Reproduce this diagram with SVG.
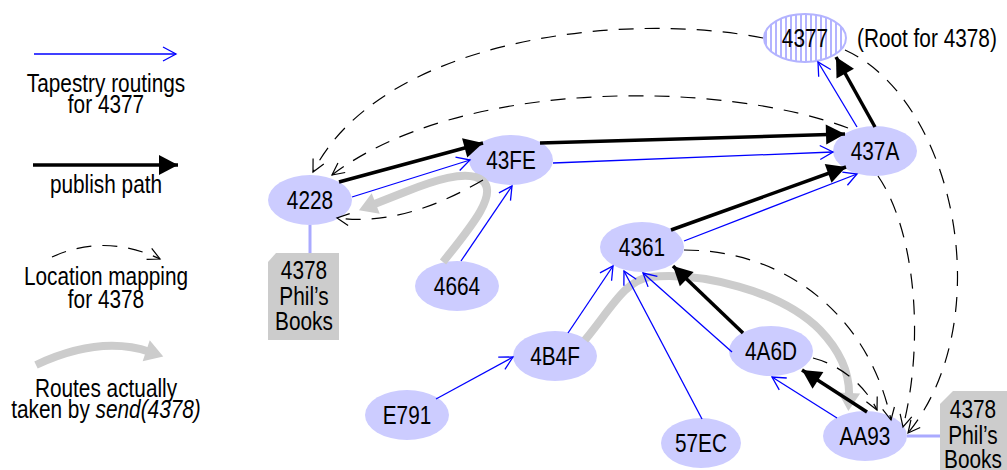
<svg xmlns="http://www.w3.org/2000/svg" width="1007" height="470" viewBox="0 0 1007 470">
<style>
text{font-family:"Liberation Sans",Arial,sans-serif;font-size:26px;fill:#000;transform:scaleX(0.8);transform-box:fill-box;transform-origin:center}
.lbl{text-anchor:middle}
.start{transform-origin:left center}
.node{fill:#ccccff}
.blue{fill:none;stroke:#0000ff;stroke-width:1.3;marker-end:url(#bh)}
.pub{fill:none;stroke:#000;stroke-width:3.5;marker-end:url(#kh)}
.loc{fill:none;stroke:#000;stroke-width:1.2;stroke-dasharray:15 11;marker-end:url(#dh)}
.route{fill:none;stroke:#cccccc;stroke-width:8;marker-end:url(#gh)}
.stub{stroke:#aaaaff;stroke-width:3}
.box{fill:#cccccc}
</style>
<defs>
<marker id="bh" markerUnits="userSpaceOnUse" markerWidth="16" markerHeight="16" refX="13" refY="7" orient="auto" overflow="visible"><path d="M0,0 L13,7 L0,14" fill="none" stroke="#0000ff" stroke-width="1.3"/></marker>
<marker id="kh" markerUnits="userSpaceOnUse" markerWidth="22" markerHeight="22" refX="19" refY="10" orient="auto" overflow="visible"><path d="M0,0 L19,10 L0,20 z" fill="#000"/></marker>
<marker id="dh" markerUnits="userSpaceOnUse" markerWidth="16" markerHeight="16" refX="12" refY="6" orient="auto" overflow="visible"><path d="M0,0 L12,6 L0,12" fill="none" stroke="#000" stroke-width="1.2"/></marker>
<marker id="gh" markerUnits="userSpaceOnUse" markerWidth="24" markerHeight="24" refX="4" refY="11" orient="auto" overflow="visible"><path d="M0,0 L18,11 L0,22 z" fill="#cccccc"/></marker>
<pattern id="stripes" patternUnits="userSpaceOnUse" width="5" height="10"><rect width="5" height="10" fill="#ffffff"/><rect x="0" width="2" height="10" fill="#b3b3ff"/></pattern>
</defs>
<g id="legend">
<line x1="34" y1="54" x2="176" y2="54" class="blue"/>
<text class="lbl" x="106" y="92">Tapestry routings</text>
<text class="lbl" x="106" y="113">for 4377</text>
<line x1="33" y1="165" x2="178" y2="165" class="pub"/>
<text class="lbl" x="106" y="193">publish path</text>
<path d="M52,257 Q105,233 160,259" class="loc"/>
<text class="lbl" x="106" y="285">Location mapping</text>
<text class="lbl" x="106" y="308">for 4378</text>
<path d="M36,365 Q100,335 150,352" class="route"/>
<text class="lbl" x="106" y="397">Routes actually</text>
<text class="lbl" x="106" y="418">taken by <tspan font-style="italic">send(4378)</tspan></text>
</g>
<g id="n4377"><ellipse cx="805" cy="38" rx="41" ry="24" fill="url(#stripes)" stroke="#b3b3ff" stroke-width="2"/><text class="lbl" x="805" y="47">4377</text><text class="start" x="857" y="47">(Root for 4378)</text></g>
<g id="n437A"><ellipse class="node" cx="875" cy="151" rx="42" ry="25"/><text class="lbl" x="875" y="160">437A</text></g>
<g id="n43FE"><ellipse class="node" cx="511" cy="160" rx="42" ry="25"/><text class="lbl" x="511" y="169">43FE</text></g>
<g id="n4228"><ellipse class="node" cx="310" cy="200" rx="42" ry="25"/><text class="lbl" x="310" y="209">4228</text></g>
<g id="n4664"><ellipse class="node" cx="457" cy="286" rx="42" ry="25"/><text class="lbl" x="457" y="295">4664</text></g>
<g id="n4361"><ellipse class="node" cx="642" cy="247" rx="42" ry="25"/><text class="lbl" x="642" y="256">4361</text></g>
<g id="n4B4F"><ellipse class="node" cx="555" cy="356" rx="42" ry="25"/><text class="lbl" x="555" y="365">4B4F</text></g>
<g id="n4A6D"><ellipse class="node" cx="771" cy="351" rx="42" ry="25"/><text class="lbl" x="771" y="360">4A6D</text></g>
<g id="nAA93"><ellipse class="node" cx="865" cy="436" rx="42" ry="25"/><text class="lbl" x="865" y="445">AA93</text></g>
<g id="nE791"><ellipse class="node" cx="407" cy="415" rx="42" ry="25"/><text class="lbl" x="407" y="424">E791</text></g>
<g id="n57EC"><ellipse class="node" cx="701" cy="443" rx="40" ry="25"/><text class="lbl" x="701" y="452">57EC</text></g>
<g id="book1"><line class="stub" x1="310" y1="225" x2="310" y2="253"/><polygon class="box" points="276,253 339,253 339,340 268,340 268,262"/><text class="lbl" x="304" y="279">4378</text><text class="lbl" x="304" y="305">Phil’s</text><text class="lbl" x="304" y="330">Books</text></g>
<g id="book2"><line class="stub" x1="907" y1="436" x2="940" y2="436"/><polygon class="box" points="953,391 1007,391 1007,470 940,470 940,404"/><text class="lbl" x="973" y="418">4378</text><text class="lbl" x="973" y="444">Phil’s</text><text class="lbl" x="973" y="468">Books</text></g>
<g id="connectors">
<path class="route" d="M443,262 C470,228 498,195 483,181 C468,168 430,182 405,192 L372,205"/>
<path class="route" d="M585,340 C610,310 625,280 650,277 C700,272 780,290 820,330 C842,353 850,375 849,397"/>
<path class="loc" d="M763,38 C620,10 380,40 313,172"/>
<path class="loc" d="M848,128 C720,80 460,78 332,175"/>
<path class="loc" d="M483,180 C440,205 390,225 337,218"/>
<path class="loc" d="M845,50 C955,100 1000,320 908,433"/>
<path class="loc" d="M878,176 C915,230 925,340 903,427"/>
<path class="loc" d="M684,250 C790,250 870,320 891,420"/>
<path class="loc" d="M813,358 C840,365 865,385 877,410"/>
<line class="blue" x1="352" y1="197" x2="470" y2="160"/>
<line class="blue" x1="461" y1="261" x2="512" y2="186"/>
<line class="blue" x1="553" y1="163" x2="833" y2="152"/>
<line class="blue" x1="857" y1="127" x2="818" y2="62"/>
<line class="blue" x1="684" y1="241" x2="857" y2="174"/>
<line class="blue" x1="568" y1="333" x2="613" y2="266"/>
<line class="blue" x1="436" y1="399" x2="513" y2="357"/>
<line class="blue" x1="702" y1="419" x2="624" y2="271"/>
<line class="blue" x1="732" y1="352" x2="643" y2="273"/>
<line class="blue" x1="837" y1="418" x2="772" y2="377"/>
<line class="pub" x1="339" y1="182" x2="483" y2="143"/>
<line class="pub" x1="540" y1="143" x2="845" y2="134"/>
<line class="pub" x1="875" y1="127" x2="836" y2="57"/>
<line class="pub" x1="671" y1="230" x2="846" y2="167"/>
<line class="pub" x1="743" y1="333" x2="673" y2="266"/>
<line class="pub" x1="867" y1="412" x2="802" y2="370"/>
</g>
</svg>
